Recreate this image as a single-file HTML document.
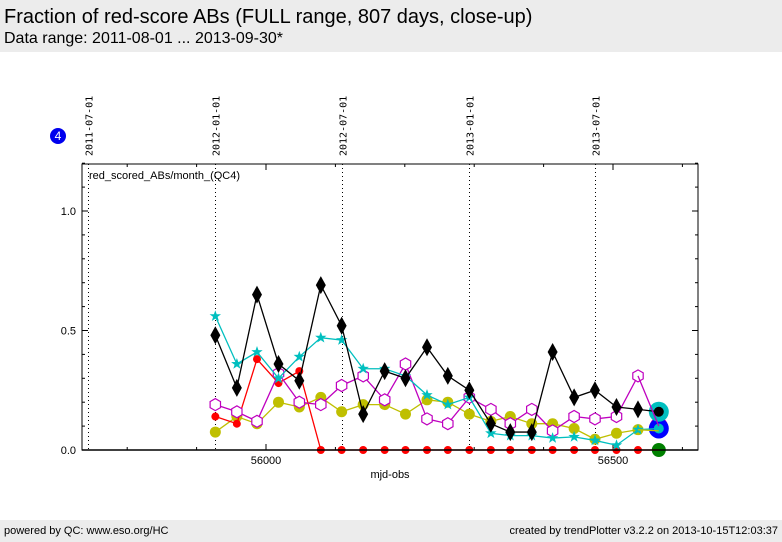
<!DOCTYPE html>
<html><head><meta charset="utf-8"><style>
body{margin:0;width:782px;height:542px;background:#fff;font-family:"Liberation Sans","DejaVu Sans",sans-serif;overflow:hidden;position:relative}
#hdr{position:absolute;left:0;top:0;width:782px;height:52px;background:#ececec}
#t1{position:absolute;left:4px;top:6px;font-size:20px}
#t2{position:absolute;left:4px;top:30px;font-size:16px}
#ftr{position:absolute;left:0;top:520px;width:782px;height:22px;background:#ececec;font-size:11px}
</style></head><body>
<div id="hdr">
<div id="t1">Fraction of red-score ABs (FULL range, 807 days, close-up)</div>
<div id="t2">Data range: 2011-08-01 ... 2013-09-30*</div>
</div>
<svg id="chart" width="782" height="542" style="position:absolute;left:0;top:0"></svg>
<div id="ftr">
<span style="position:absolute;left:4px;top:5px">powered by QC: www.eso.org/HC</span>
<span style="position:absolute;right:4px;top:5px">created by trendPlotter v3.2.2 on 2013-10-15T12:03:37</span>
</div>
<script>
const months = ["2012-01","2012-02","2012-03","2012-04","2012-05","2012-06","2012-07","2012-08","2012-09","2012-10","2012-11","2012-12","2013-01","2013-02","2013-03","2013-04","2013-05","2013-06","2013-07","2013-08","2013-09","2013-10"];
const blackVals = [0.48,0.26,0.65,0.36,0.29,0.69,0.52,0.15,0.33,0.30,0.43,0.31,0.25,0.11,0.075,0.075,0.41,0.22,0.25,0.18,0.17,0.16];
const cyanVals = [0.56,0.36,0.41,0.30,0.39,0.47,0.46,0.34,0.34,0.31,0.23,0.19,0.22,0.07,0.06,0.06,0.05,0.055,0.04,0.02,0.085,0.09];
const redVals = [0.14,0.11,0.38,0.28,0.33,0,0,0,0,0,0,0,0,0,0,0,0,0,0,0,0,0];
const magentaVals = [0.19,0.16,0.12,0.32,0.20,0.19,0.27,0.31,0.21,0.36,0.13,0.11,0.22,0.17,0.11,0.17,0.08,0.14,0.13,0.14,0.31,0.10];
const oliveVals = [0.075,0.14,0.11,0.20,0.18,0.22,0.16,0.19,0.19,0.15,0.21,0.20,0.15,0.12,0.14,0.11,0.11,0.09,0.045,0.07,0.085,0.08];
const yTicks = [0.0,0.5,1.0];
const xTicks = [56000,56500];
const dateLines = ["2011-07-01","2012-01-01","2012-07-01","2013-01-01","2013-07-01"];

const L=82,T=164,R=698,B=450;
function mjd(s){const p=s.split("-").map(Number);const d=Date.UTC(p[0],p[1]-1,p[2]||1);return d/86400000+40587;}
function xs(m){return 266+(m-56000)*347/500;}
function ys(v){return 450-v*239;}
const svg=document.getElementById('chart');const NS="http://www.w3.org/2000/svg";
function el(tag,attrs,parent){const e=document.createElementNS(NS,tag);for(const k in attrs)e.setAttribute(k,attrs[k]);(parent||svg).appendChild(e);return e;}

let frame=el('rect',{x:L,y:T,width:R-L,height:B-T,fill:'none',stroke:'#000','stroke-width':1});


// y ticks
for(let v=0;v<=1.2001;v+=0.1){const y=ys(v);const len=Math.abs(v*2-Math.round(v*2))<0.01?6:3;
 el('line',{x1:L,x2:L+len,y1:y,y2:y,stroke:'#000'});el('line',{x1:R,x2:R-len,y1:y,y2:y,stroke:'#000'});}
yTicks.forEach(v=>{const t=el('text',{x:L-6,y:ys(v)+4,'text-anchor':'end','font-size':11});t.textContent=v.toFixed(1);
 
 });
// x ticks
for(let m=55700;m<=56600;m+=100){const x=xs(m);if(x<L||x>R)continue;const len=(m%500===0)?6:3;
 el('line',{x1:x,x2:x,y1:B,y2:B-len,stroke:'#000'});el('line',{x1:x,x2:x,y1:T,y2:T+len,stroke:'#000'});}
xTicks.forEach(m=>{const t=el('text',{x:xs(m),y:B+14,'text-anchor':'middle','font-size':11});t.textContent=m;
 
 });
const xt=el('text',{x:390,y:478,'text-anchor':'middle','font-size':11});xt.textContent='mjd-obs';


const lab=el('text',{x:89,y:179,'font-size':11});lab.textContent='red_scored_ABs/month_(QC4)';


// date lines
dateLines.forEach(d=>{const x=Math.round(xs(mjd(d)))+0.5;
 const ln=el('line',{x1:x,x2:x,y1:T,y2:B,stroke:'#000','stroke-dasharray':'1,3'});
 
 
 const t=el('text',{x:0,y:0,'font-size':10,'font-family':'"DejaVu Sans Mono","Liberation Mono",monospace',transform:`translate(${x+4},156) rotate(-90)`});
 t.textContent=d;
 
 });
// badge
const bc=el('circle',{cx:58,cy:136,r:8,fill:'#0000ee'});


const bt=el('text',{x:58,y:140,'text-anchor':'middle','font-size':12,fill:'#fff'});bt.textContent='4';

const xsM=months.map(m=>xs(mjd(m+"-01")));
function hexPts(x,y,r){let p=[];for(let i=0;i<6;i++){const a=Math.PI/6+i*Math.PI/3;p.push((x+r*Math.cos(a)).toFixed(1)+','+(y+r*Math.sin(a)).toFixed(1));}return p.join(' ');}
function starPts(x,y,r){let p=[];for(let i=0;i<10;i++){const a=-Math.PI/2+i*Math.PI/5;const rr=i%2?r*0.4:r;p.push((x+rr*Math.cos(a)).toFixed(1)+','+(y+rr*Math.sin(a)).toFixed(1));}return p.join(' ');}
function series(vals,color,name,marker,n){
 const g=el('g',{});
 
 
 const N=n||vals.length;
 el('polyline',{points:vals.slice(0,N).map((v,i)=>xsM[i]+','+ys(v)).join(' '),fill:'none',stroke:color,'stroke-width':1.3},g);
 vals.slice(0,N).forEach((v,i)=>{const x=xsM[i],y=ys(v);let m;
  if(marker==='diamond')m=el('polygon',{points:`${x},${y-9} ${x+5},${y} ${x},${y+9} ${x-5},${y}`,fill:'#000'},g);
  else if(marker==='circle')m=el('circle',{cx:x,cy:y,r:4,fill:color},g);
  else if(marker==='olive')m=el('circle',{cx:x,cy:y,r:5.5,fill:color},g);
  else if(marker==='hex')m=el('polygon',{points:hexPts(x,y,6),fill:'#fff',stroke:color,'stroke-width':1.2},g);
  else m=el('polygon',{points:starPts(x,y,6),fill:color},g);
  
  });
}
series(oliveVals,'#bfbf00','olive-series','olive',21);
series(redVals,'#ff0000','red-series','circle',21);
series(magentaVals,'#bf00bf','magenta-series','hex',21);
series(cyanVals,'#00bfbf','cyan-series','star',21);
series(blackVals,'#000000','black-series','diamond',21);
// final (latest) markers
const li=months.length-1, fx=xsM[li];
[[oliveVals[li],'#bfbf00',7],[redVals[li],'#008000',7],[magentaVals[li],'#bf00bf',9],[cyanVals[li],'#0000ff',10],[blackVals[li],'#00bfbf',10]].forEach(a=>{
 const c=el('circle',{cx:fx,cy:ys(a[0]),r:a[2],fill:a[1]});
 
 });
el('circle',{cx:fx,cy:ys(cyanVals[li]),r:5,fill:'#00bfbf'});
el('circle',{cx:fx,cy:ys(blackVals[li]),r:5,fill:'#000'});
// lines from second-last to last
[[blackVals,'#000'],[cyanVals,'#00bfbf'],[magentaVals,'#bf00bf'],[oliveVals,'#bfbf00'],[redVals,'#f00']].forEach(a=>{
 el('line',{x1:xsM[li-1],y1:ys(a[0][li-1]),x2:fx,y2:ys(a[0][li]),stroke:a[1],'stroke-width':1.3});});
el('line',{x1:L,x2:R,y1:B,y2:B,stroke:'#000','stroke-width':1.5});
</script>
</body></html>
